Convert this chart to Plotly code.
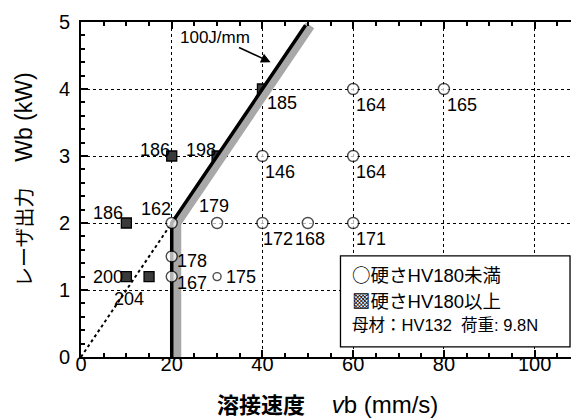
import plotly.graph_objects as go

# Data
low_x = [20, 30, 40, 50, 60, 40, 60, 60, 80, 20, 20, 30]
low_y = [2, 2, 2, 2, 2, 3, 3, 4, 4, 1.5, 1.2, 1.2]
low_lab = ["162", "179", "172", "168", "171", "146", "164", "164", "165", "178", "167", "175"]

high_x = [40, 20, 30, 10, 10, 15]
high_y = [4, 3, 3, 2, 1.2, 1.2]
high_lab = ["185", "186", "198", "186", "200", "204"]

# boundary: vertical at 20 mm/s up to 2 kW, then 100 J/mm line
bound_x = [20, 20, 49.5]
bound_y = [0, 2, 4.95]
dot_x = [0, 20]
dot_y = [0, 2]

# styling (pixel offsets for labels, marker sizes)
low_off = [(-16, -14), (-3, -17), (16, 16), (2, 16), (18, 16), (18, 16), (18, 16), (18, 16), (18, 16), (20, 4), (20, 6), (24, 0)]
low_size = [11, 11, 11, 11, 11, 11, 11, 11, 11, 11, 11, 8]
high_off = [(20, 14), (-17, -6), (-16, -6), (-18, -10), (-18, 0), (-20, 22)]

fig = go.Figure()

fig.add_trace(go.Scatter(x=dot_x, y=dot_y, mode="lines",
                         line=dict(color="black", width=2, dash="dot"), hoverinfo="skip"))
fig.add_trace(go.Scatter(x=high_x, y=high_y, mode="markers",
                         marker=dict(symbol="square", size=10, color="#3a3a3a",
                                     line=dict(color="black", width=1.3))))
# grey stippled band
fig.add_trace(go.Scatter(x=[v + 1.0 for v in bound_x], y=bound_y, mode="lines",
                         line=dict(color="#a8a8a8", width=10), hoverinfo="skip"))
fig.add_trace(go.Scatter(x=bound_x, y=bound_y, mode="lines",
                         line=dict(color="black", width=3.5), hoverinfo="skip"))

fig.add_trace(go.Scatter(x=low_x, y=low_y, mode="markers",
                         marker=dict(symbol="circle", size=low_size, color="white",
                                     line=dict(color="black", width=1.4))))

lab_font = dict(family="Liberation Sans, Arial", size=18, color="black")
for x, y, t, (dx, dy) in zip(low_x, low_y, low_lab, low_off):
    fig.add_annotation(x=x, y=y, text=t, showarrow=False, xshift=dx, yshift=-dy, font=lab_font)
for x, y, t, (dx, dy) in zip(high_x, high_y, high_lab, high_off):
    fig.add_annotation(x=x, y=y, text=t, showarrow=False, xshift=dx, yshift=-dy, font=lab_font)

# 100J/mm arrow
fig.add_annotation(x=41.8, y=4.4, ax=34.5, ay=4.63, xref="x", yref="y", axref="x", ayref="y",
                   text="", showarrow=True, arrowhead=2, arrowsize=1.2, arrowwidth=1.6, arrowcolor="black")
fig.add_annotation(x=29.5, y=4.77, text="100J/mm", showarrow=False,
                   font=dict(family="Liberation Sans, Arial", size=17, color="black"))

# legend box
fig.add_shape(type="rect", xref="paper", yref="paper", x0=0.52, x1=0.98, y0=0.03, y1=0.302,
              line=dict(color="black", width=1.3), fillcolor="white", layer="above")
cjk = "Liberation Sans, Noto Sans CJK JP"
sym = '<span style="font-family:Noto Sans CJK JP">%s</span>'
fig.add_annotation(xref="paper", yref="paper", x=0.54, y=0.248, xanchor="left", yanchor="middle",
                   text=(sym % "○") + "硬さHV180未満", showarrow=False,
                   font=dict(family=cjk, size=18.5, color="black"))
fig.add_annotation(xref="paper", yref="paper", x=0.54, y=0.17, xanchor="left", yanchor="middle",
                   text=(sym % "▩") + "硬さHV180以上", showarrow=False,
                   font=dict(family=cjk, size=18.5, color="black"))
fig.add_annotation(xref="paper", yref="paper", x=0.54, y=0.095, xanchor="left", yanchor="middle",
                   text="母材：HV132  荷重: 9.8N", showarrow=False,
                   font=dict(family=cjk, size=16.5, color="black"))

# axis titles
fig.add_annotation(xref="paper", yref="paper", x=(319 - 73) / 499, y=-(395 - 349) / 335,
                   xanchor="center", yanchor="middle",
                   text='<span style="font-family:Noto Sans CJK JP;font-size:22px;font-weight:bold">溶接速度</span>'
                        '    <i>v</i>b (mm/s)',
                   showarrow=False, font=dict(family="Liberation Sans, Arial", size=24, color="black"))
fig.add_annotation(xref="paper", yref="paper", x=-(73 - 15) / 499, y=(349 - 172) / 335,
                   xanchor="center", yanchor="middle", textangle=-90,
                   text='<span style="font-family:Noto Sans CJK JP;font-size:20px">レーザ出力</span>'
                        '    Wb (kW)',
                   showarrow=False, font=dict(family="Liberation Sans, Arial", size=23, color="black"))

axis_common = dict(showline=True, linecolor="black", linewidth=2, mirror="ticks",
                   ticks="inside", ticklen=7, tickwidth=1.5, tickcolor="black",
                   showgrid=True, gridcolor="black", griddash="dot", gridwidth=1,
                   zeroline=False, automargin=False,
                   tickfont=dict(family="Liberation Sans, Arial", size=20, color="black"))

fig.update_xaxes(range=[0, 110], tick0=0, dtick=20, ticklabelstandoff=-12,
                 minor=dict(ticks="inside", dtick=5, ticklen=4, tickcolor="black", showgrid=False),
                 **axis_common)
fig.update_yaxes(range=[0, 5], tick0=0, dtick=1, ticklabelstandoff=5,
                 minor=dict(ticks="inside", dtick=0.2, ticklen=4, tickcolor="black", showgrid=False),
                 **axis_common)

fig.update_layout(width=579, height=418, margin=dict(l=73, r=7, t=14, b=69),
                  plot_bgcolor="white", paper_bgcolor="white", showlegend=False)

fig.write_html("out.html")
